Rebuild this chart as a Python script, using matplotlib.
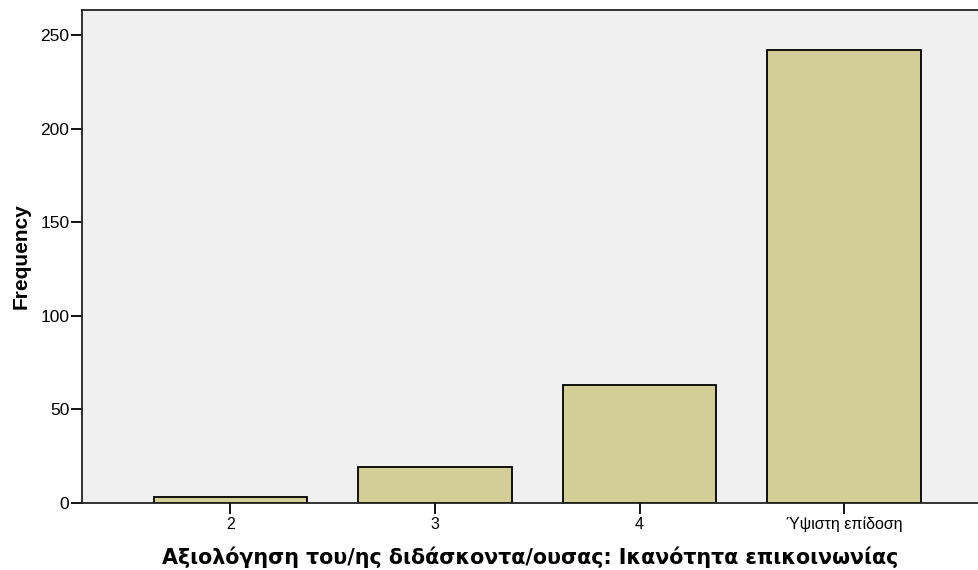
import matplotlib
matplotlib.use("Agg")
import matplotlib.pyplot as plt

plt.rcParams['font.family'] = ['Liberation Sans', 'DejaVu Sans']

categories = ["2", "3", "4", "Ύψιστη επίδοση"]
frequency  = [3, 19, 63, 242]

fig = plt.figure(figsize=(9.79, 5.70), dpi=100)
ax = fig.add_axes([82/979, 1 - 503/570, 1 - 82/979, (503 - 10)/570])

ax.set_facecolor("#F0F0F0")
x = range(len(categories))
ax.bar(x, frequency, width=0.75, color="#D3CE97", edgecolor="black", linewidth=1.3, zorder=2)

ax.set_xlim(-0.726, 3.66)
ax.set_ylim(0, 263.3)
ax.set_xticks(list(x))
ax.set_xticklabels(categories, fontsize=11.5)
ax.set_yticks([0, 50, 100, 150, 200, 250])
ax.tick_params(axis="y", labelsize=12.5, length=8, width=1.3, pad=1)
ax.tick_params(axis="x", length=8, width=1.3, pad=2)

for side in ["left", "top", "bottom"]:
    ax.spines[side].set_linewidth(1.3)
    ax.spines[side].set_color("#222222")
ax.spines["right"].set_visible(False)

ax.set_ylabel("Frequency", fontsize=15, fontweight="bold", labelpad=7)
ax.set_xlabel("Αξιολόγηση του/ης διδάσκοντα/ουσας: Ικανότητα επικοινωνίας",
              fontsize=14.9, fontweight="bold", labelpad=10,
              family=["DejaVu Sans"])

fig.savefig("out.png", dpi=100)
